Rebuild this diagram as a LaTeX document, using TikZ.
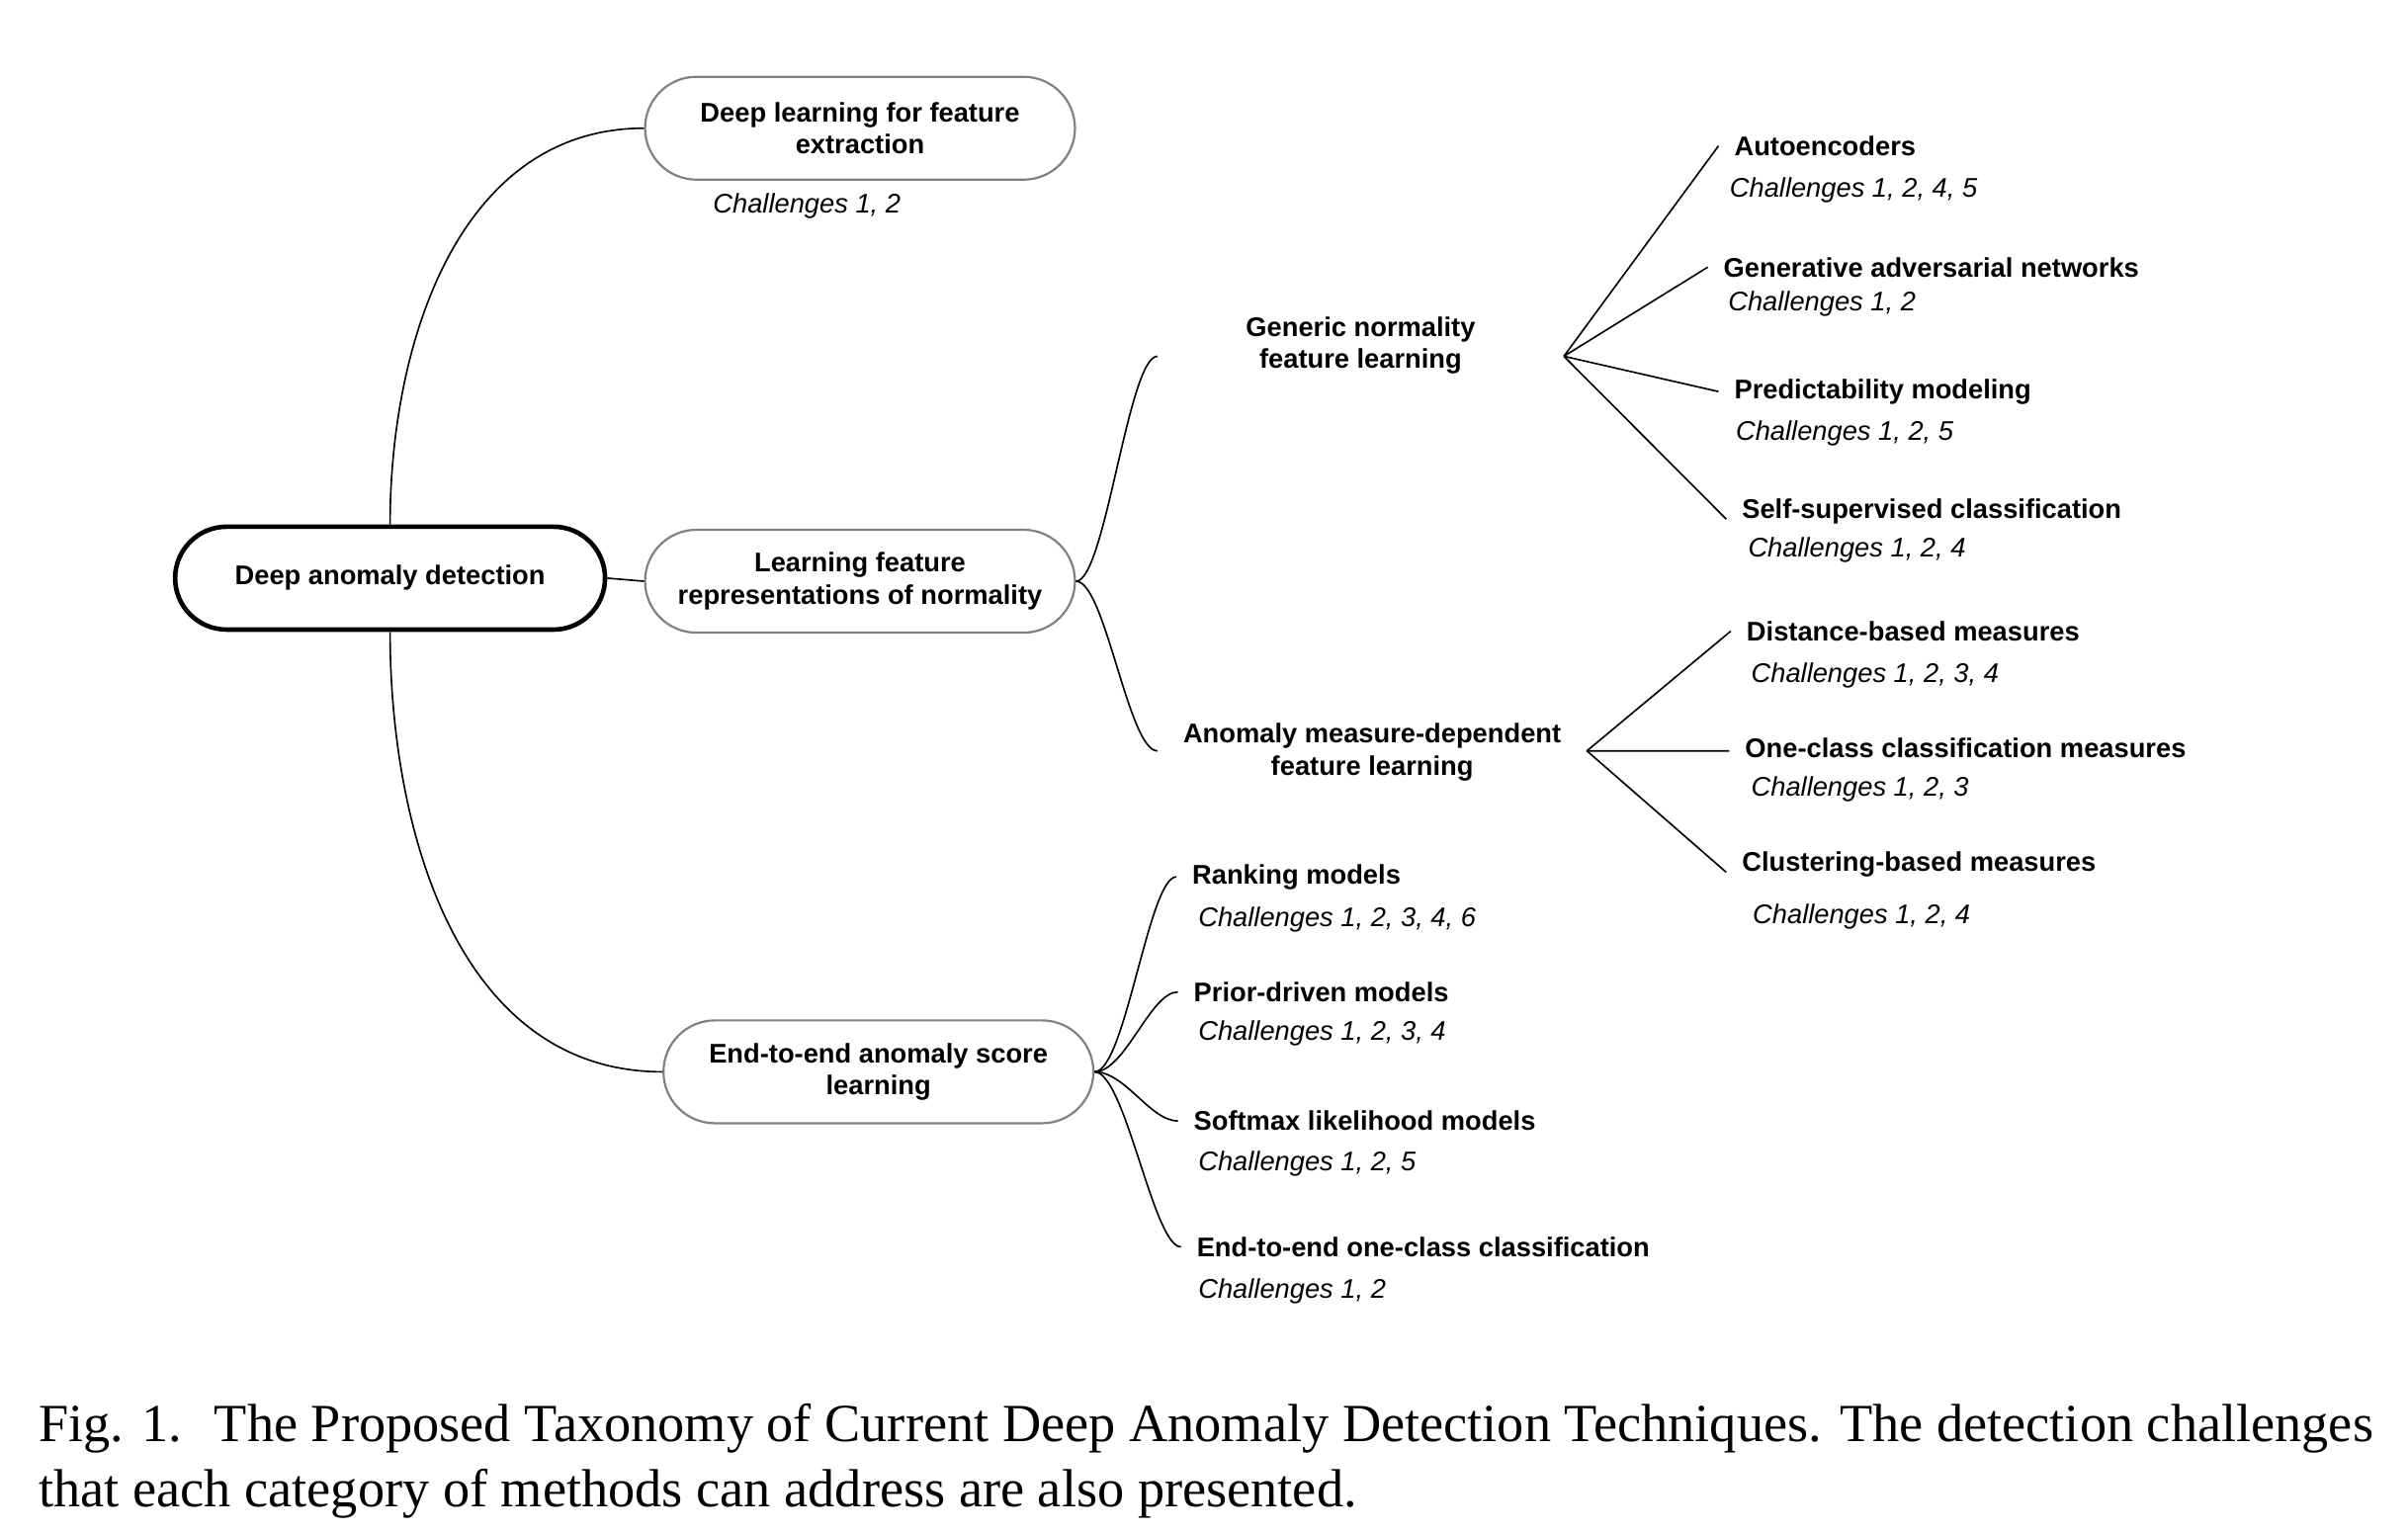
\documentclass[tikz,border=0pt]{standalone}
\usepackage{fontspec}
\setmainfont{Liberation Sans}
\newfontfamily\capfont{Liberation Serif}
\usetikzlibrary{shapes.misc}
\definecolor{bordergray}{HTML}{808080}
\begin{document}
\begin{tikzpicture}[x=0.02cm,y=-0.02cm,
  capsule/.style={rounded rectangle, draw=bordergray, line width=0.8pt,
    minimum width=5.6cm, minimum height=1.34cm, align=center, inner sep=0pt,
    font=\bfseries\fontsize{10}{12}\selectfont},
  rootbox/.style={capsule, draw=black, line width=1.7pt},
  midtext/.style={align=center, inner sep=0pt, font=\bfseries\fontsize{10}{12}\selectfont},
  item/.style={anchor=west, inner xsep=0.2cm, inner ysep=0pt,
    font=\bfseries\fontsize{10}{12}\selectfont},
  chal/.style={anchor=west, inner sep=0pt, font=\itshape\fontsize{10}{12}\selectfont},
  conn/.style={draw=black, line width=0.6pt}]
\useasboundingbox (0,0) rectangle (1568,997.7);

% main nodes
\node[rootbox] (root) at (254,376.5) {Deep anomaly detection};
\node[capsule] (dl) at (560,83.5) {Deep learning for feature\\extraction};
\node[capsule] (learn) at (560,378.5) {Learning feature\\representations of normality};
\node[capsule] (e2e) at (572,698) {End-to-end anomaly score\\learning};
\node[chal] (dlc) at (464,134) {Challenges 1, 2};

% second level (normality)
\node[midtext, minimum width=5.28cm] (gen) at (886,225) {Generic normality\\feature learning};
\node[midtext, minimum width=5.58cm] (anom) at (893.5,490) {Anomaly measure-dependent\\feature learning};

% generic items
\node[item] (auto) at (1119,95) {Autoencoders};
\node[chal] (autoc) at (1126,124) {Challenges 1, 2, 4, 5};
\node[item] (gan) at (1112,174) {Generative adversarial networks};
\node[chal] (ganc) at (1125,198) {Challenges 1, 2};
\node[item] (pred) at (1119,255) {Predictability modeling};
\node[chal] (predc) at (1130,282) {Challenges 1, 2, 5};
\node[item] (self) at (1124,333) {Self-supervised classification};
\node[chal] (selfc) at (1138,358) {Challenges 1, 2, 4};

% measure items
\node[item] (dist) at (1127,411) {Distance-based measures};
\node[chal] (distc) at (1140,440) {Challenges 1, 2, 3, 4};
\node[item] (ocm) at (1126,487) {One-class classification measures};
\node[chal] (ocmc) at (1140,514) {Challenges 1, 2, 3};
\node[item] (clus) at (1124,563) {Clustering-based measures};
\node[chal] (clusc) at (1141,597) {Challenges 1, 2, 4};

% end-to-end items
\node[item] (rank) at (766,571) {Ranking models};
\node[chal] (rankc) at (780,599) {Challenges 1, 2, 3, 4, 6};
\node[item] (prior) at (767,646) {Prior-driven models};
\node[chal] (priorc) at (780,673) {Challenges 1, 2, 3, 4};
\node[item] (soft) at (767,730) {Softmax likelihood models};
\node[chal] (softc) at (780,758) {Challenges 1, 2, 5};
\node[item] (eoc) at (769,812) {End-to-end one-class classification};
\node[chal] (eocc) at (780,841) {Challenges 1, 2};

% connectors from root
\draw[conn] (root.north) to[out=90,in=180] (dl.west);
\draw[conn] (root.south) to[out=-90,in=180] (e2e.west);
\draw[conn] (root.east) -- (learn.west);

% learn -> second level
\draw[conn] (learn.east) .. controls +(19,0) and +(-19,0) .. ([yshift=-0.14cm]gen.west);
\draw[conn] (learn.east) .. controls +(19,0) and +(-19,0) .. ([yshift=0.02cm]anom.west);

% fans
\draw[conn] ([yshift=-0.14cm]gen.east) -- (auto.west);
\draw[conn] ([yshift=-0.14cm]gen.east) -- (gan.west);
\draw[conn] ([yshift=-0.14cm]gen.east) -- (pred.west);
\draw[conn] ([yshift=-0.14cm]gen.east) -- ([yshift=-0.1cm]self.west);
\draw[conn] ([yshift=0.02cm]anom.east) -- (dist.west);
\draw[conn] ([yshift=0.02cm]anom.east) -- ([yshift=-0.04cm]ocm.west);
\draw[conn] ([yshift=0.02cm]anom.east) -- ([yshift=-0.1cm]clus.west);

% end-to-end curves
\draw[conn] (e2e.east) .. controls +(20,0) and +(-18,0) .. (rank.west);
\draw[conn] (e2e.east) .. controls +(20,0) and +(-18,0) .. (prior.west);
\draw[conn] (e2e.east) .. controls +(20,0) and +(-18,0) .. (soft.west);
\draw[conn] (e2e.east) .. controls +(20,0) and +(-18,0) .. (eoc.west);

% caption
\node[anchor=north west, inner sep=0pt, align=left,
  font=\capfont\fontsize{19.9}{24}\selectfont] (caption) at (25,914)
  {Fig. 1.\hspace{0.6em}The Proposed Taxonomy of Current Deep Anomaly Detection Techniques. The detection challenges\\
   that each category of methods can address are also presented.};
\end{tikzpicture}
\end{document}
